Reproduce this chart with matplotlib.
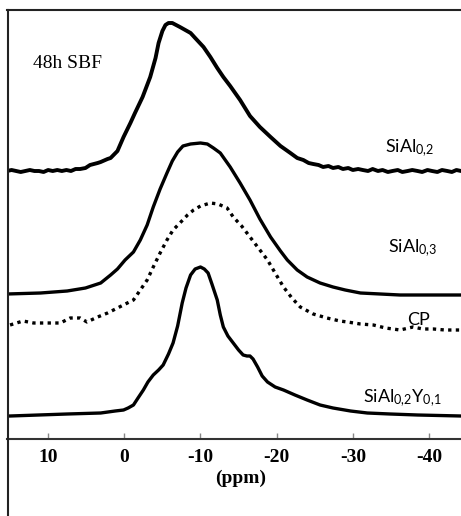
import matplotlib.pyplot as plt
from matplotlib.lines import Line2D

plt.rcParams['mathtext.fontset'] = 'custom'
plt.rcParams['mathtext.rm'] = 'Lato'
plt.rcParams['mathtext.it'] = 'Lato:italic'

# 29Si MAS NMR spectra after 48h in SBF (chemical shift in ppm, intensity a.u.)
ppm_sial02 = [15.4, 14.8, 14.2, 13.6, 13.0, 12.4, 11.8, 11.2, 10.6, 10.0, 9.4, 8.8,
              8.2, 7.6, 7.0, 6.4, 5.8, 5.1, 4.5, 3.5, 3.1, 2.2, 1.8, 0.9, 0.1, -0.8,
              -1.4, -2.4, -3.4, -4.1, -4.5, -5.0, -5.4, -5.8, -6.3, -6.8, -7.3, -8.0,
              -8.7, -9.3, -10.4, -11.3, -12.2, -13.0, -13.9, -15.2, -16.5, -17.8,
              -19.2, -20.5, -21.8, -22.7, -23.5, -24.2, -24.8, -25.5, -26.1, -26.8,
              -27.4, -28.1, -28.7, -29.4, -30.0, -30.7, -31.3, -32.0, -32.6, -33.3,
              -33.9, -34.6, -35.2, -35.9, -36.5, -37.2, -37.8, -38.5, -39.1, -39.8,
              -40.4, -41.1, -41.7, -42.4, -43.0, -43.6, -44.2]
int_sial02 = [0, 1, 0, -1, 0, 1, 0, 0, -1, 1, 0, 1,
              0, 1, 0, 2, 2, 3, 6, 8, 9, 12, 13, 20, 34, 48,
              58, 74, 94, 113, 128, 140, 146, 148, 148, 146, 144, 141,
              138, 133, 124, 114, 103, 94, 85, 71, 55, 44,
              34, 25, 18, 13, 11, 8, 7, 6, 4, 5, 3, 4, 2, 3, 1, 2, 1, 0, 2, 0,
              1, -1, 0, 1, -1, 0, 1, 0, -1, 1, 0, -1, 1, 0, -1, 1, 0]

ppm_sial03 = [15.4, 11.0, 7.5, 5.1, 3.1, 1.8, 0.9, -0.1, -1.2, -2.1, -3.0, -3.8,
              -4.7, -5.6, -6.3, -7.0, -7.7, -8.7, -10.0, -10.9, -11.7, -12.6,
              -13.9, -15.2, -16.5, -17.8, -19.2, -20.5, -21.4, -22.7, -24.0,
              -25.7, -27.4, -29.0, -31.0, -33.6, -36.2, -40.2, -44.2]
int_sial03 = [1, 2, 4, 7, 12, 20, 26, 35, 43, 55, 70, 88,
              106, 122, 134, 143, 149, 151, 152, 151, 147, 142,
              128, 112, 95, 76, 58, 44, 35, 25, 18,
              12, 8, 5, 2, 1, 0, 0, 0]

ppm_cp = [15.0, 13.3, 11.9, 10.4, 9.3, 8.4, 7.1, 5.8, 4.9, 3.5, 2.2, 0.9, -0.4,
          -1.2, -2.1, -3.0, -3.8, -4.7, -5.6, -6.4, -7.3, -8.3, -9.1, -10.0,
          -11.3, -12.3, -13.5, -14.3, -15.4, -16.5, -17.6, -18.8, -19.8, -20.9,
          -22.0, -23.1, -24.8, -26.6, -28.3, -29.3, -31.0, -32.7, -34.3, -36.2,
          -37.9, -39.2, -40.6, -42.1, -44.2]
int_cp = [5, 9, 7, 7, 7, 7, 12, 12, 8, 13, 17, 22, 27,
          30, 40, 50, 63, 77, 90, 100, 107, 115, 120, 124,
          127, 126, 122, 113, 104, 93, 82, 70, 57, 43,
          32, 23, 16, 12, 9, 8, 6, 5, 2, 0,
          3, 1, 1, 0, 0]

ppm_sial02y01 = [15.4, 15.0, 7.5, 3.1, 1.2, 0.1, -0.5, -1.2, -1.8, -2.5, -3.1, -3.8,
                 -4.5, -5.1, -5.8, -6.4, -7.0, -7.6, -8.1, -8.7, -9.3, -10.0, -10.5,
                 -11.0, -11.5, -12.2, -12.6, -13.0, -13.6, -14.3, -15.0, -15.6,
                 -16.1, -16.5, -16.9, -17.5, -18.1, -18.8, -19.8, -20.9, -22.4,
                 -24.0, -25.7, -27.4, -29.7, -31.9, -34.9, -38.5, -44.2]
int_sial02y01 = [0, 0, 2, 3, 5, 6, 8, 11, 18, 26, 34, 41,
                 46, 51, 62, 73, 90, 113, 128, 141, 147, 149, 147,
                 143, 132, 116, 101, 89, 80, 73, 66, 61,
                 60, 60, 57, 49, 40, 34, 29, 26, 21,
                 16, 11, 8, 5, 3, 2, 1, 0]

# vertical stacking of the traces
offsets = [268, 144, 109, 23]
labels = [r'SiAl$_\mathrm{0{,}2}$', r'SiAl$_\mathrm{0{,}3}$', 'CP',
          r'SiAl$_\mathrm{0{,}2}$Y$_\mathrm{0{,}1}$']
xticks = [10, 0, -10, -20, -30, -40]

W, H = 461, 516
fig = plt.figure(figsize=(W / 100, H / 100), dpi=100)
ax = fig.add_axes([7 / W, 77 / H, 454 / W, 429 / H])

traces = [(ppm_sial02, int_sial02), (ppm_sial03, int_sial03),
          (ppm_cp, int_cp), (ppm_sial02y01, int_sial02y01)]
for i, (x, y) in enumerate(traces):
    yy = [v + offsets[i] for v in y]
    if labels[i] == 'CP':
        ax.plot(x, yy, color='black', lw=2.4, linestyle=(0, (1, 1.3)),
                dash_capstyle='butt')
    else:
        ax.plot(x, yy, color='black', lw=2.8 if i == 0 else 2.4,
                solid_joinstyle='round', solid_capstyle='round')

ax.set_xlim(15.4, -44.2)
ax.set_ylim(0, 429)
ax.set_yticks([])
ax.set_xticks(xticks)
ax.set_xticklabels([str(t) for t in xticks], fontfamily='Liberation Serif',
                   fontweight='bold', fontsize=14)
ax.tick_params(axis='x', direction='in', length=4, width=1, color='#888888', pad=7)
for side in ['top', 'right', 'left']:
    ax.spines[side].set_visible(False)
ax.spines['bottom'].set_linewidth(1.5)
ax.spines['bottom'].set_color('#333333')
ax.patch.set_alpha(0)

ax.text(0.515, -0.091, '(ppm)', transform=ax.transAxes, ha='center', va='center',
        fontfamily='Liberation Serif', fontweight='bold', fontsize=14)

# outer frame around the figure
fig.add_artist(Line2D([7.5 / W, 7.5 / W], [0, 1 - 10 / H], color='#222222', lw=1.5))
fig.add_artist(Line2D([7 / W, 1], [1 - 10 / H, 1 - 10 / H], color='#222222', lw=1.5))

fig.text(33 / W, 1 - 68 / H, '48h SBF', fontfamily='Liberation Serif', fontsize=14,
         va='baseline')
label_pos = [(385, 152), (388, 252), (407, 325), (363, 402)]
for (px, py), lab in zip(label_pos, labels):
    fig.text(px / W, 1 - py / H, lab, fontfamily='Lato', fontsize=13, va='baseline')

fig.savefig('out.png', dpi=100)
